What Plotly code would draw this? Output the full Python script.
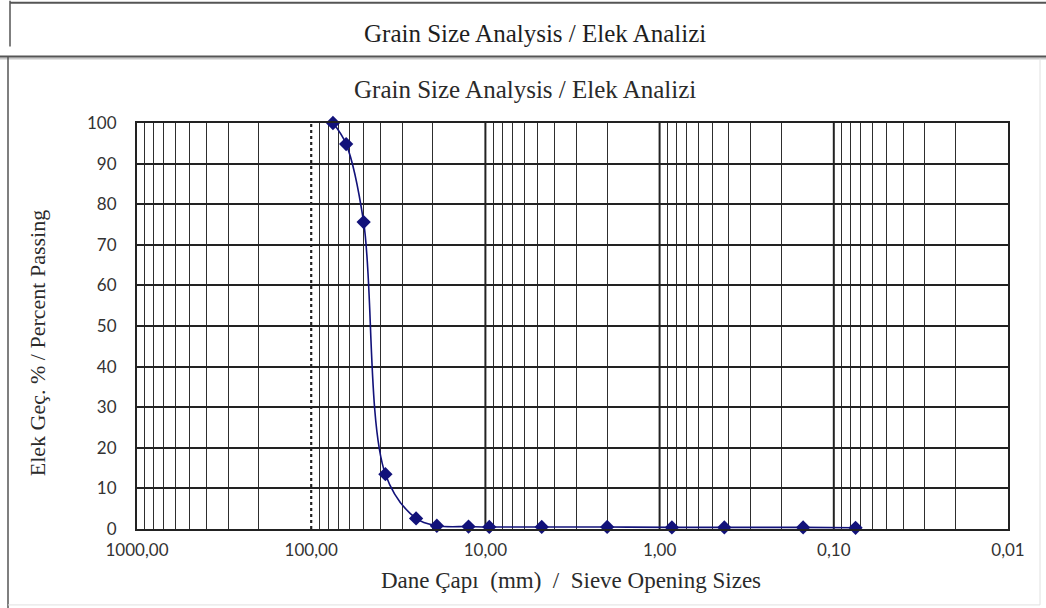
import math
import plotly.graph_objects as go

# Sieve opening sizes (mm) and cumulative percent passing
sieve_mm = [75, 63, 50, 37.5, 25, 19, 12.5, 9.5, 4.75, 2.0, 0.85, 0.425, 0.15, 0.075]
passing = [100, 94.8, 75.6, 13.5, 2.6, 0.8, 0.6, 0.5, 0.5, 0.5, 0.4, 0.4, 0.4, 0.3]

# Axis tick labels (decimal comma)
x_tick_vals = [1000, 100, 10, 1, 0.1, 0.01]
x_tick_text = ["1000,00", "100,00", "10,00", "1,00", "0,10", "0,01"]
y_tick_vals = list(range(0, 101, 10))

TITLE = "Grain Size Analysis / Elek Analizi"
X_TITLE = "Dane Çapı  (mm)  /  Sieve Opening Sizes"
Y_TITLE = "Elek Geç. % / Percent Passing"

W, H = 1046, 608
L, R, T, B = 137, 1008, 122.5, 529

def xp(px):
    return (px - L) / (R - L)

def yp(py):
    return (B - py) / (B - T)

# minor log grid: 2..9 x each decade
minor_vals = []
for e in range(-2, 3):
    for m in range(2, 10):
        minor_vals.append(m * 10 ** e)

SERIF = "Liberation Serif, Times New Roman, serif"
SANS = "Lato, Carlito, Calibri, sans-serif"
TXT = "#1e1e1e"
NAVY = "#12127a"

fig = go.Figure()

# decade grid lines (100 drawn dotted)
for d in [100, 10, 1, 0.1]:
    fig.add_trace(go.Scatter(
        x=[d, d], y=[0, 100], mode="lines", hoverinfo="skip", showlegend=False,
        line=dict(color="#222222", width=2 if d != 100 else 2.2,
                  dash="dot" if d == 100 else "solid"),
    ))

fig.add_trace(go.Scatter(
    x=sieve_mm, y=passing, mode="lines+markers", showlegend=False,
    line=dict(color=NAVY, width=1.6, shape="spline", smoothing=1.0),
    marker=dict(symbol="diamond", size=11, color=NAVY),
    cliponaxis=False,
))

shapes = [
    # header box
    dict(type="line", xref="paper", yref="paper", x0=xp(10), x1=xp(W), y0=yp(2), y1=yp(2),
         line=dict(color="#555555", width=2)),
    dict(type="line", xref="paper", yref="paper", x0=xp(10), x1=xp(10), y0=yp(0), y1=yp(46),
         line=dict(color="#555555", width=1.5)),
    # chart frame
    dict(type="line", xref="paper", yref="paper", x0=xp(0), x1=xp(W), y0=yp(58), y1=yp(58),
         line=dict(color="#c8c8c8", width=2)),
    dict(type="line", xref="paper", yref="paper", x0=xp(0), x1=xp(W), y0=yp(56), y1=yp(56),
         line=dict(color="#555555", width=2)),
    dict(type="line", xref="paper", yref="paper", x0=xp(8), x1=xp(8), y0=yp(56), y1=yp(H),
         line=dict(color="#555555", width=1.5)),
    dict(type="line", xref="paper", yref="paper", x0=xp(1040), x1=xp(1040), y0=yp(58), y1=yp(605),
         line=dict(color="#e0e0e0", width=1)),
    dict(type="line", xref="paper", yref="paper", x0=xp(8), x1=xp(1040), y0=yp(605), y1=yp(605),
         line=dict(color="#e0e0e0", width=1)),
]

annotations = [
    dict(text=TITLE, xref="paper", yref="paper", x=xp(535), y=yp(33), showarrow=False,
         xanchor="center", yanchor="middle", font=dict(family=SERIF, size=25, color=TXT)),
    dict(text=TITLE, xref="paper", yref="paper", x=xp(525), y=yp(89), showarrow=False,
         xanchor="center", yanchor="middle", font=dict(family=SERIF, size=25, color="#2a2a2a")),
    dict(text=X_TITLE, xref="paper", yref="paper", x=xp(571), y=yp(581), showarrow=False,
         xanchor="center", yanchor="middle", font=dict(family=SERIF, size=23, color="#2a2a2a")),
    dict(text=Y_TITLE, xref="paper", yref="paper", x=xp(37), y=yp(343), showarrow=False,
         xanchor="center", yanchor="middle", textangle=-90,
         font=dict(family=SERIF, size=22, color="#2a2a2a")),
]

fig.update_layout(
    width=W, height=H,
    margin=dict(l=L, r=W - R, t=T, b=H - B),
    paper_bgcolor="white", plot_bgcolor="white",
    shapes=shapes, annotations=annotations,
    xaxis=dict(
        type="log", range=[math.log10(1000), math.log10(0.01)],
        tickvals=x_tick_vals, ticktext=x_tick_text, ticks="",
        showgrid=False, zeroline=False,
        showline=True, mirror=True, linecolor="#222222", linewidth=2,
        tickfont=dict(family=SANS, size=17, color="#333333"),
        ticklabelstandoff=5,
        minor=dict(tickvals=minor_vals, showgrid=True, gridcolor="#2e2e2e", gridwidth=1.4, ticks=""),
    ),
    yaxis=dict(
        range=[0, 100], tickvals=y_tick_vals, ticks="",
        showgrid=True, gridcolor="#222222", gridwidth=1.8, zeroline=False,
        showline=True, mirror=True, linecolor="#222222", linewidth=2,
        tickfont=dict(family=SANS, size=17, color="#333333"),
        ticklabelstandoff=15,
    ),
)

fig.write_html("out.html")
